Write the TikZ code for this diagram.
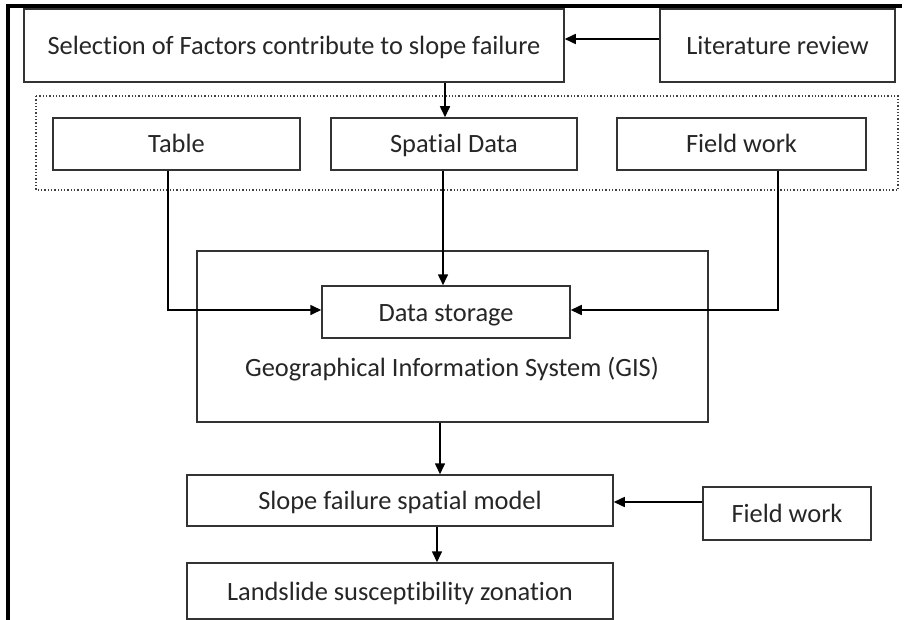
\documentclass[tikz,border=0pt]{standalone}
\usepackage{fontspec}
\setmainfont{Carlito}[Ligatures={NoCommon}]
\usetikzlibrary{arrows.meta,calc}
\begin{document}
\begin{tikzpicture}[x=1pt,y=-1pt,
  box/.style={draw=black!80,line width=1.5pt,inner sep=0pt,anchor=center,text=black!85,
    text height=20pt,text depth=2pt,
    font=\fontsize{26.4}{30}\selectfont},
  arr/.style={draw=black,line width=1.6pt,-{Triangle[length=11pt,width=10pt]}}]
\useasboundingbox (0,0) rectangle (912,620);
\fill[white] (0,0) rectangle (912,620);
% outer frame
\draw[line width=3.2pt,black] (8,620) -- (8,6) -- (902,6);
% top row
\node[box,minimum width=540pt,minimum height=73pt] (sel) at (294,45.5) {Selection of Factors contribute to slope failure};
\node[box,minimum width=235pt,minimum height=73pt] (lit) at (777.5,45.5) {Literature review};
% dotted group
\draw[black!75,line width=1.3pt,dotted] (36,96) rectangle (898,190);
\node[box,minimum width=247pt,minimum height=52pt] (tab) at (176.5,144) {Table};
\node[box,minimum width=246pt,minimum height=52pt] (spa) at (454,144) {Spatial Data};
\node[box,minimum width=249pt,minimum height=52pt] (fw) at (741.5,144) {Field work};
% GIS
\node[box,minimum width=511pt,minimum height=171pt,text height=0pt,text depth=0pt] (gis) at (452.5,336.5) {};
\node[box,draw=none] (gistxt) at (452,367) {Geographical Information System (GIS)};
\node[box,minimum width=248pt,minimum height=52pt] (ds) at (446,312) {Data storage};
% bottom
\node[box,minimum width=426pt,minimum height=51pt] (slope) at (400,500.5) {Slope failure spatial model};
\node[box,minimum width=426pt,minimum height=56pt] (land) at (400,591) {Landslide susceptibility zonation};
\node[box,minimum width=168pt,minimum height=53pt] (fw2) at (787,513.5) {Field work};
% connectors
\coordinate (ylit) at (0,39);
\coordinate (xsel) at (445,0);
\coordinate (c1) at (168,310);
\coordinate (xspa) at (443,0);
\coordinate (c2) at (778,310);
\coordinate (xgis) at (440,0);
\coordinate (xsl) at (437,0);
\coordinate (yfw) at (0,502);
\draw[arr] (lit.west |- ylit) -- (sel.east |- ylit);
\draw[arr] (sel.south -| xsel) -- (spa.north -| xsel);
\draw[arr] (tab.south -| c1) |- (ds.west |- c1);
\draw[arr] (spa.south -| xspa) -- (ds.north -| xspa);
\draw[arr] (fw.south -| c2) |- (ds.east |- c2);
\draw[arr] (gis.south -| xgis) -- (slope.north -| xgis);
\draw[arr] (slope.south -| xsl) -- (land.north -| xsl);
\draw[arr] (fw2.west |- yfw) -- (slope.east |- yfw);
\end{tikzpicture}
\end{document}
